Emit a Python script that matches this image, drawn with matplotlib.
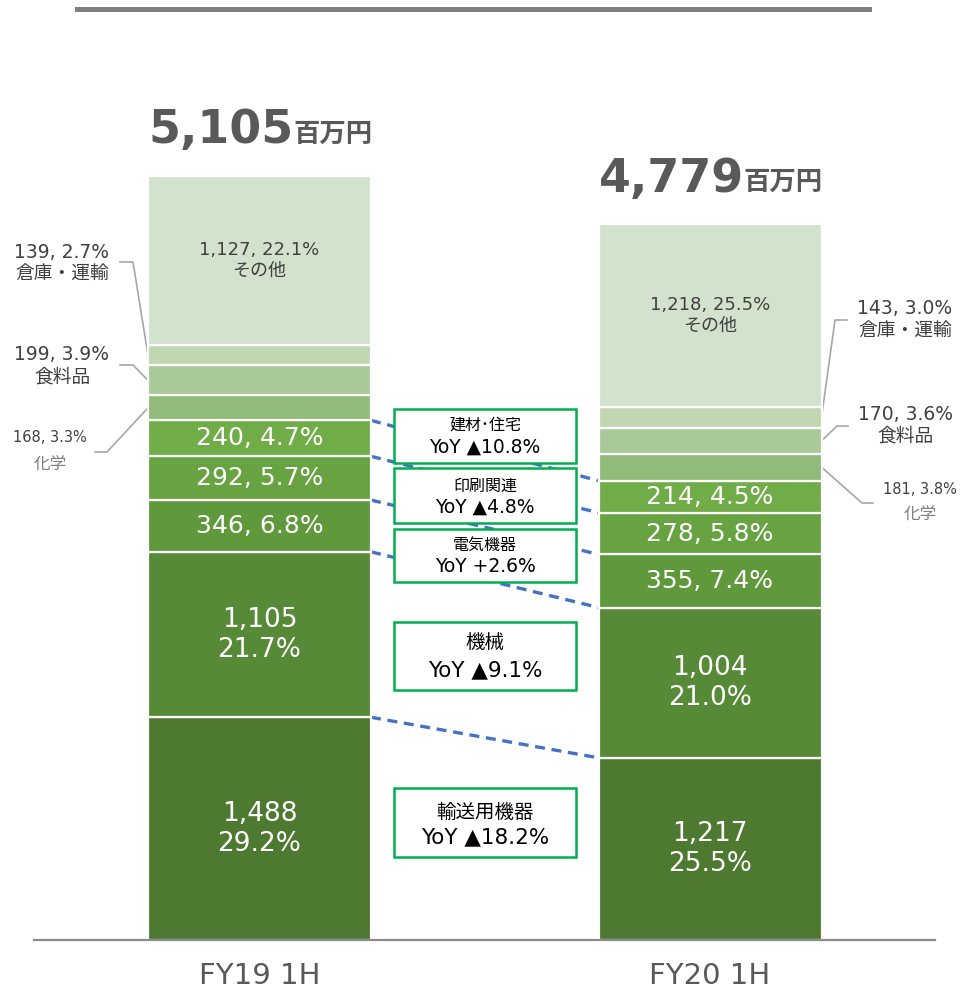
import numpy as np
import matplotlib.pyplot as plt
from matplotlib.patches import Rectangle
from matplotlib.lines import Line2D

plt.rcParams["font.family"] = ["DejaVu Sans", "Noto Sans CJK JP"]

# data
periods = ["FY19 1H", "FY20 1H"]
totals = [5105, 4779]
sectors = ["輸送用機器", "機械", "電気機器", "印刷関連", "建材・住宅",
           "化学", "食料品", "倉庫・運輸", "その他"]
fy19_values = [1488, 1105, 346, 292, 240, 168, 199, 139, 1127]
fy20_values = [1217, 1004, 355, 278, 214, 181, 170, 143, 1218]
fy19_share = [29.2, 21.7, 6.8, 5.7, 4.7, 3.3, 3.9, 2.7, 22.1]
fy20_share = [25.5, 21.0, 7.4, 5.8, 4.5, 3.8, 3.6, 3.0, 25.5]
# YoY boxes, top to bottom
yoy_names = ["建材･住宅", "印刷関連", "電気機器", "機械", "輸送用機器"]
yoy_values = ["▲10.8%", "▲4.8%", "+2.6%", "▲9.1%", "▲18.2%"]

colors = ["#4e7931", "#578a37", "#5f993c", "#67a340", "#70ac47",
          "#90bb78", "#a9ca98", "#c0d8b2", "#d3e2cc"]

# layout (pixels of the 966x993 canvas)
W, H = 966, 993
BASE_PX = 940
PX_PER_UNIT = 0.1497
LEFT_CX, STEP = 259.5, 450.5
BAR_W = 223 / STEP
DARK = "#404040"
GREY = "#595959"


def px(xp, yp):
    return (xp - LEFT_CX) / STEP, (BASE_PX - yp) / PX_PER_UNIT


fig = plt.figure(figsize=(W / 100, H / 100), dpi=100)
ax = fig.add_axes([0, (H - BASE_PX) / H, 1, BASE_PX / H])
ax.set_xlim(-LEFT_CX / STEP, (W - LEFT_CX) / STEP)
ax.set_ylim(0, BASE_PX / PX_PER_UNIT)
for s in ax.spines.values():
    s.set_visible(False)
ax.set_yticks([])
ax.set_xticks([0, 1])
ax.set_xticklabels(periods, fontsize=21, color=GREY)
ax.tick_params(axis="x", length=0, pad=16)

x = np.array([0, 1])
vals = np.array([fy19_values, fy20_values])
shares = np.array([fy19_share, fy20_share])
bottoms = np.zeros(2)
centers = np.zeros((2, len(sectors)))
tops = np.zeros((2, len(sectors)))
for k in range(len(sectors)):
    ax.bar(x, vals[:, k], bottom=bottoms, width=BAR_W, color=colors[k],
           edgecolor="white", linewidth=1.6, zorder=2)
    centers[:, k] = bottoms + vals[:, k] / 2
    bottoms = bottoms + vals[:, k]
    tops[:, k] = bottoms

# labels inside segments
for i in range(2):
    for k in range(len(sectors)):
        v, p, cy = vals[i, k], shares[i, k], centers[i, k]
        if k <= 1:
            ax.text(i, cy, f"{v:,}\n{p:.1f}%", ha="center", va="center",
                    color="white", fontsize=19, linespacing=1.2, zorder=4)
        elif k <= 4:
            ax.text(i, cy, f"{v:,}, {p:.1f}%", ha="center", va="center",
                    color="white", fontsize=18, zorder=4)
        elif k == 8:
            ax.text(i, cy, f"{v:,}, {p:.1f}%\n{sectors[k]}", ha="center",
                    va="center", color=DARK, fontsize=13, linespacing=1.2,
                    zorder=4)

# side labels with leader lines
side = {
    # (period, sector): (text pos, elbow start, elbow corner)
    (0, 7): ((62, 263), (120, 262), (133, 262)),
    (0, 6): ((62, 366), (120, 365), (133, 365)),
    (1, 7): ((905, 320), (847, 320), (835, 320)),
    (1, 6): ((905, 425), (848, 426), (837, 426)),
}
for (i, k), (tp, p0, p1) in side.items():
    v, p = vals[i, k], shares[i, k]
    ax.text(*px(*tp), f"{v:,}, {p:.1f}%\n{sectors[k]}", ha="center",
            va="center", color=DARK, fontsize=13.5, linespacing=1.2)
    edge = i - BAR_W / 2 if i == 0 else i + BAR_W / 2
    xs = [px(*p0)[0], px(*p1)[0], edge]
    ys = [px(*p0)[1], px(*p1)[1], centers[i, k]]
    ax.plot(xs, ys, color="#a6a6a6", lw=1.2, zorder=1)

chem = {0: ((50, 437), (50, 465), (95, 452), (107, 452)),
        1: ((920, 489), (920, 515), (873, 503), (862, 503))}
for i, (t1, t2, p0, p1) in chem.items():
    k = 5
    ax.text(*px(*t1), f"{vals[i, k]:,}, {shares[i, k]:.1f}%", ha="center",
            va="center", color=DARK, fontsize=10.5)
    ax.text(*px(*t2), sectors[k], ha="center", va="center", color="#7f7f7f",
            fontsize=12)
    edge = i - BAR_W / 2 if i == 0 else i + BAR_W / 2
    xs = [px(*p0)[0], px(*p1)[0], edge]
    ys = [px(*p0)[1], px(*p1)[1], centers[i, k]]
    ax.plot(xs, ys, color="#a6a6a6", lw=1.2, zorder=1)

# dashed connectors between the bars
for k in range(5):
    ax.plot([BAR_W / 2, 1 - BAR_W / 2], [tops[0, k], tops[1, k]],
            color="#4472c4", lw=2.4, ls=(0, (3, 2)), zorder=1)

# YoY boxes
boxes = [(409, 463), (468, 523), (529, 582), (622, 690), (788, 857)]
name_y = [425, 486, 545, 643, 812]
yoy_y = [447, 507, 566, 670, 837]
for j, (top, bot) in enumerate(boxes):
    x0, y0 = px(394, bot)
    x1, y1 = px(576, top)
    ax.add_patch(Rectangle((x0, y0), x1 - x0, y1 - y0, facecolor="white",
                           edgecolor="#00b050", lw=1.8, zorder=3))
    big = j >= 3
    ax.text(*px(485, name_y[j]), yoy_names[j], ha="center",
            va="center", fontsize=14 if big else 11.5, color="black", zorder=4)
    ax.text(*px(485, yoy_y[j]), f"YoY {yoy_values[j]}", ha="center",
            va="center", fontsize=15.5 if big else 13.5, color="black",
            zorder=4)

# totals
for i in range(2):
    t = ax.text(i - BAR_W / 2, totals[i] + 220, f"{totals[i]:,}", ha="left",
                va="baseline", fontsize=33, fontweight="bold", color=GREY)
    ax.annotate("百万円", xy=(1, 0.12), xycoords=t, ha="left", va="bottom",
                fontsize=19, fontweight="bold", color=GREY)

# baseline and header rule
ax.plot([-0.5, 1.5], [0, 0], color="#8c8c8c", lw=1.6, clip_on=False, zorder=5)
fig.add_artist(Line2D([77 / W, 869 / W], [1 - 9 / H] * 2, color="#7f7f7f",
                      lw=3.6))

fig.savefig("out.png", dpi=100)
